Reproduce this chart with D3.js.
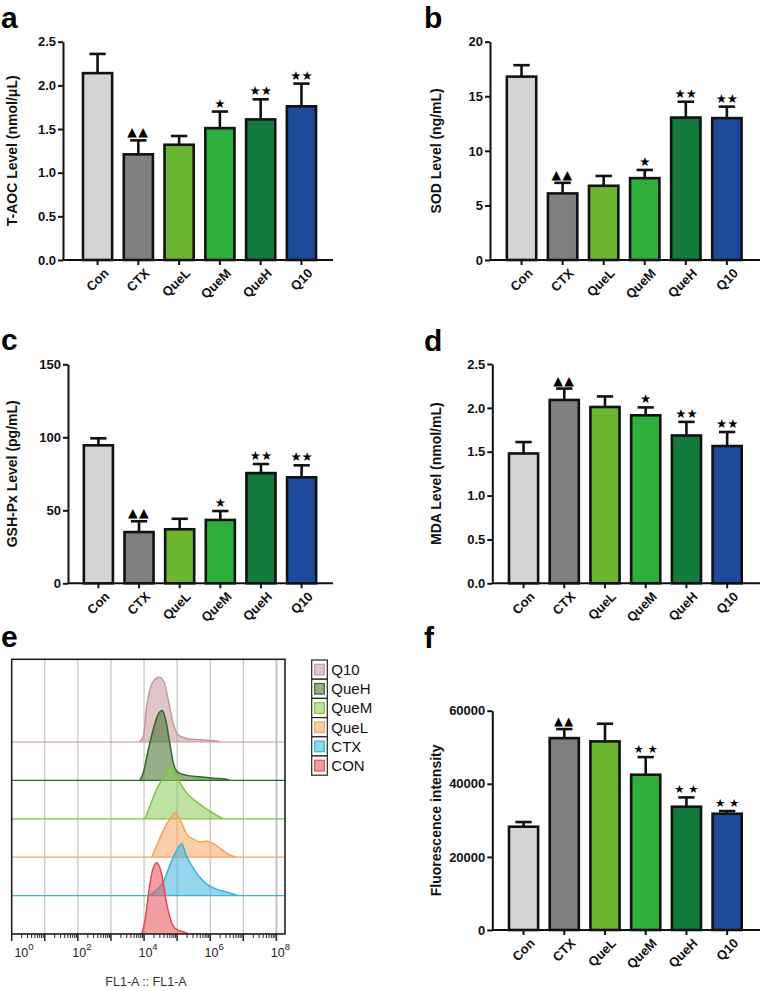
<!DOCTYPE html>
<html>
<head>
<meta charset="utf-8">
<script src="https://cdn.jsdelivr.net/npm/d3@7"></script>
<style>
  html, body { margin: 0; padding: 0; background: #fff; }
  svg { display: block; font-family: "Liberation Sans", Arial, sans-serif; }
</style>
</head>
<body>
<svg id="chart" width="761" height="991"></svg>
<script>
// ---------------- DATA ----------------
const categories = ["Con", "CTX", "QueL", "QueM", "QueH", "Q10"];
const barColors = ["#d4d4d4", "#7f7f7f", "#6bb52f", "#2eae3b", "#127a3b", "#1e4a9c"];

const taocMean = [2.14, 1.21, 1.32, 1.51, 1.61, 1.76];
const taocErr  = [0.22, 0.16, 0.10, 0.19, 0.23, 0.26];
const taocMarks = ["", "▲▲", "", "★", "★★", "★★"];
const taocTicks = [0, 0.5, 1.0, 1.5, 2.0, 2.5];

const sodMean = [16.8, 6.1, 6.8, 7.5, 13.05, 13.0];
const sodErr  = [1.05, 0.97, 0.9, 0.75, 1.45, 1.05];
const sodMarks = ["", "▲▲", "", "★", "★★", "★★"];
const sodTicks = [0, 5, 10, 15, 20];

const gshMean = [94.5, 35.1, 37.0, 43.4, 75.5, 72.6];
const gshErr  = [4.8, 7.4, 7.2, 6.1, 6.2, 8.2];
const gshMarks = ["", "▲▲", "", "★", "★★", "★★"];
const gshTicks = [0, 50, 100, 150];

const mdaMean = [1.48, 2.09, 2.01, 1.915, 1.685, 1.565];
const mdaErr  = [0.13, 0.13, 0.12, 0.09, 0.155, 0.16];
const mdaMarks = ["", "▲▲", "", "★", "★★", "★★"];
const mdaTicks = [0, 0.5, 1.0, 1.5, 2.0, 2.5];

const fluoMean = [28260, 52500, 51600, 42480, 33730, 31810];
const fluoErr  = [1280, 2470, 4830, 4830, 2550, 730];
const fluoMarks = ["", "▲▲", "", "★ ★", "★ ★", "★ ★"];
const fluoTicks = [0, 20000, 40000, 60000];

// Flow cytometry histograms: [log10(FL1-A), relative count]
const histNames  = ["Q10", "QueH", "QueM", "QueL", "CTX", "CON"];
const histStroke = ["#c9969c", "#2f6a2a", "#7cc243", "#f5a35a", "#36b3e2", "#e8464f"];
const histFill   = ["#c9969c", "#3d6e2a", "#8ccc5a", "#f6a860", "#3ab4e0", "#e8505a"];
const histQ10 = [[3.86,0],[3.98,8],[4.08,50],[4.18,73],[4.33,87],[4.46,90],[4.60,84],[4.73,59],[4.88,26],[5.03,10],[5.29,5],[5.69,3],[6.19,1.5],[6.29,0]];
const histQueH = [[3.88,0],[3.98,11],[4.13,43],[4.28,71],[4.43,92],[4.55,97],[4.65,85],[4.76,57],[4.88,25],[5.03,11],[5.29,7],[5.69,5],[6.09,3],[6.49,1.5],[6.59,0]];
const histQueM = [[4.03,0],[4.18,18],[4.38,41],[4.58,57],[4.73,69],[4.80,72],[4.93,66],[5.09,50],[5.29,36],[5.49,27],[5.69,20],[5.94,12],[6.19,5],[6.39,0]];
const histQueL = [[4.23,0],[4.38,16],[4.58,37],[4.78,53],[4.95,62],[5.08,53],[5.29,32],[5.49,25],[5.69,21],[5.89,22],[6.09,19],[6.34,11],[6.59,3],[6.78,0]];
const histCTX = [[4.15,0],[4.38,8],[4.58,19],[4.78,42],[4.98,62],[5.14,72],[5.27,56],[5.44,42],[5.69,25],[5.89,16],[6.19,9],[6.49,5],[6.84,0]];
const histCON = [[3.93,0],[4.03,19],[4.15,61],[4.26,89],[4.38,99],[4.53,84],[4.68,43],[4.84,15],[4.99,6],[5.19,3],[5.34,0]];
const histData = [histQ10, histQueH, histQueM, histQueL, histCTX, histCON];
const flowMajorExp = [0, 1, 2, 3, 4, 5, 6, 7, 8];
const flowLabelExp = [0, 2, 4, 6, 8];

// ---------------- DRAW ----------------
const svg = d3.select("#chart");
const FONT = '"Liberation Sans", Arial, sans-serif';
const SYM = '"DejaVu Sans", sans-serif';

function panelLabel(txt, x, y) {
  svg.append("text").attr("x", x).attr("y", y).text(txt)
    .attr("font-family", FONT).attr("font-weight", "bold").attr("font-size", 30).attr("fill", "#000");
}

function barPanel(o) {
  const g = svg.append("g");
  const x = d3.scaleBand().domain(categories).range([o.x0, o.x1])
    .paddingInner(0.285).paddingOuter(o.padOuter);
  const y = d3.scaleLinear().domain([0, o.max]).range([o.yBottom, o.yTop]);

  g.selectAll("rect.bar").data(categories).join("rect")
    .attr("x", d => x(d)).attr("width", x.bandwidth())
    .attr("y", (d, i) => y(o.mean[i])).attr("height", (d, i) => y(0) - y(o.mean[i]))
    .attr("fill", (d, i) => barColors[i]).attr("stroke", "#111").attr("stroke-width", 2.6);

  const cap = x.bandwidth() * 0.28;
  categories.forEach((c, i) => {
    const cx = x(c) + x.bandwidth() / 2;
    const top = y(o.mean[i] + o.err[i]);
    g.append("line").attr("x1", cx).attr("x2", cx).attr("y1", y(o.mean[i])).attr("y2", top)
      .attr("stroke", "#111").attr("stroke-width", 2.6);
    g.append("line").attr("x1", cx - cap).attr("x2", cx + cap).attr("y1", top).attr("y2", top)
      .attr("stroke", "#111").attr("stroke-width", 2.6);
    if (o.marks[i]) {
      g.append("text").attr("x", cx).attr("y", top - 4).attr("text-anchor", "middle")
        .attr("font-family", SYM).attr("font-size", o.markSize || 12.5).attr("fill", "#000")
        .attr("letter-spacing", o.marks[i] === "▲▲" ? 1.5 : 0)
        .text(o.marks[i]);
    }
  });

  const ya = d3.axisLeft(y).tickValues(o.ticks).tickFormat(o.fmt).tickSize(5).tickPadding(2).tickSizeOuter(0);
  const yg = g.append("g").attr("transform", `translate(${o.x0},0)`).call(ya);
  yg.select(".domain").attr("stroke", "#111").attr("stroke-width", 2);
  yg.selectAll(".tick line").attr("stroke", "#111").attr("stroke-width", 2);
  yg.selectAll(".tick text").attr("font-family", FONT).attr("font-weight", "bold")
    .attr("font-size", 13).attr("fill", "#111");

  const xa = d3.axisBottom(x).tickSize(5).tickSizeOuter(0).tickFormat("");
  const xg = g.append("g").attr("transform", `translate(0,${o.yBottom})`).call(xa);
  xg.select(".domain").attr("stroke", "#111").attr("stroke-width", 2)
    .attr("d", `M${o.x0},0H${o.xEnd}`);
  xg.selectAll(".tick line").attr("stroke", "#111").attr("stroke-width", 2);
  categories.forEach(c => {
    const cx = x(c) + x.bandwidth() / 2;
    g.append("text").attr("transform", `translate(${cx + 12},${o.yBottom + 14}) rotate(-45)`)
      .attr("text-anchor", "end").attr("font-family", FONT).attr("font-weight", "bold")
      .attr("font-size", 13).attr("fill", "#111").text(c);
  });

  g.append("text").attr("transform", `translate(${o.titleX},${(o.yTop + o.yBottom) / 2}) rotate(-90)`)
    .attr("text-anchor", "middle").attr("font-family", FONT).attr("font-weight", "bold")
    .attr("font-size", 14).attr("fill", "#111").text(o.title);
}

const f1 = d3.format(".1f");
const f0 = d3.format("d");

panelLabel("a", 1, 28);
barPanel({ x0: 63, x1: 336, xEnd: 333, padOuter: 0.49, yTop: 41.7, yBottom: 260, max: 2.5,
  ticks: taocTicks, fmt: f1, mean: taocMean, err: taocErr, marks: taocMarks,
  title: "T-AOC Level (nmol/μL)", titleX: 17 });

panelLabel("b", 424, 28);
barPanel({ x0: 490, x1: 758.4, xEnd: 760, padOuter: 0.41, yTop: 41.7, yBottom: 260, max: 20,
  ticks: sodTicks, fmt: f0, mean: sodMean, err: sodErr, marks: sodMarks,
  title: "SOD Level (ng/mL)", titleX: 441 });

panelLabel("c", 1, 350);
barPanel({ x0: 68, x1: 332, xEnd: 333, padOuter: 0.39, yTop: 364.3, yBottom: 583.3, max: 150,
  ticks: gshTicks, fmt: f0, mean: gshMean, err: gshErr, marks: gshMarks,
  title: "GSH-Px Level (pg/mL)", titleX: 17 });

panelLabel("d", 424, 351);
barPanel({ x0: 492.3, x1: 758.4, xEnd: 760, padOuter: 0.41, yTop: 364, yBottom: 583.3, max: 2.5,
  ticks: mdaTicks, fmt: f1, mean: mdaMean, err: mdaErr, marks: mdaMarks,
  title: "MDA Level (nmol/mL)", titleX: 441 });

panelLabel("f", 424, 648);
barPanel({ x0: 492.3, x1: 758.4, xEnd: 760, padOuter: 0.41, yTop: 710.7, yBottom: 930, max: 60000,
  ticks: fluoTicks, fmt: f0, mean: fluoMean, err: fluoErr, marks: fluoMarks, markSize: 11.5,
  title: "Fluorescence intensity", titleX: 441 });

// ---------------- Panel e: flow histograms ----------------
panelLabel("e", 1, 647);
(function () {
  const L = 11.7, R = 285, T = 659.3, B = 934;
  const g = svg.append("g");
  const xs = d3.scaleLog().domain([1, Math.pow(10, 8.26)]).range([L, R]);
  const hs = d3.scaleLinear().domain([0, 100]).range([0, 72]);
  const trackGap = 38.4;

  svg.append("defs").append("clipPath").attr("id", "frameClip")
    .append("rect").attr("x", L).attr("y", T).attr("width", R - L).attr("height", B - T);

  flowMajorExp.filter(e => e > 0).forEach(e => {
    g.append("line").attr("x1", xs(Math.pow(10, e))).attr("x2", xs(Math.pow(10, e)))
      .attr("y1", T).attr("y2", B).attr("stroke", "#c4c4c4").attr("stroke-width", e === 8 ? 2 : 1.2);
  });

  const hg = g.append("g").attr("clip-path", "url(#frameClip)");
  histData.forEach((data, idx) => {
    const level = histNames.length - 1 - idx;
    const base = B - level * trackGap;
    hg.append("line").attr("x1", L).attr("x2", R).attr("y1", base).attr("y2", base)
      .attr("stroke", histStroke[idx]).attr("stroke-width", 1.2);
    const area = d3.area().x(d => xs(Math.pow(10, d[0]))).y0(base)
      .y1(d => base - hs(d[1])).curve(d3.curveMonotoneX);
    const line = d3.line().x(d => xs(Math.pow(10, d[0]))).y(d => base - hs(d[1])).curve(d3.curveMonotoneX);
    hg.append("path").attr("d", area(data)).attr("fill", histFill[idx]).attr("fill-opacity", 0.55);
    hg.append("path").attr("d", line(data)).attr("fill", "none")
      .attr("stroke", histStroke[idx]).attr("stroke-width", 1.5);
  });

  g.append("rect").attr("x", L).attr("y", T).attr("width", R - L).attr("height", B - T)
    .attr("fill", "none").attr("stroke", "#222").attr("stroke-width", 1.6);

  flowMajorExp.forEach(e => {
    const px = xs(Math.pow(10, e));
    g.append("line").attr("x1", px).attr("x2", px).attr("y1", B).attr("y2", B + 7)
      .attr("stroke", "#222").attr("stroke-width", 1.5);
    if (e < 8) {
      for (let k = 2; k <= 9; k++) {
        const mx = xs(k * Math.pow(10, e));
        g.append("line").attr("x1", mx).attr("x2", mx).attr("y1", B).attr("y2", B + 4)
          .attr("stroke", "#222").attr("stroke-width", 1);
      }
    }
  });
  flowLabelExp.forEach(e => {
    const px = Math.max(xs(Math.pow(10, e)) + 4, 24);
    const t = g.append("text").attr("x", px).attr("y", 957).attr("text-anchor", "middle")
      .attr("font-family", FONT).attr("font-size", 12.5).attr("fill", "#222");
    t.append("tspan").text("10");
    t.append("tspan").attr("dy", -7).attr("font-size", 9.5).text(String(e));
  });
  g.append("text").attr("x", 146).attr("y", 986).attr("text-anchor", "middle")
    .attr("font-family", FONT).attr("font-size", 12.5).attr("fill", "#333").text("FL1-A :: FL1-A");

  const lx = 311.7, ly = 660, cw = 15.6, ch = 19.2;
  histNames.forEach((n, i) => {
    const y0 = ly + i * ch;
    g.append("rect").attr("x", lx).attr("y", y0).attr("width", cw).attr("height", ch)
      .attr("fill", "#fff").attr("stroke", "#222").attr("stroke-width", 1.2);
    g.append("rect").attr("x", lx + 3).attr("y", y0 + 4.3).attr("width", cw - 6).attr("height", ch - 8.6)
      .attr("fill", histFill[i]).attr("fill-opacity", 0.55)
      .attr("stroke", histStroke[i]).attr("stroke-width", 1.2);
    g.append("text").attr("x", lx + cw + 4).attr("y", y0 + ch / 2 + 5.3)
      .attr("font-family", FONT).attr("font-size", 15).attr("fill", "#111").text(n);
  });
})();
</script>
</body>
</html>
